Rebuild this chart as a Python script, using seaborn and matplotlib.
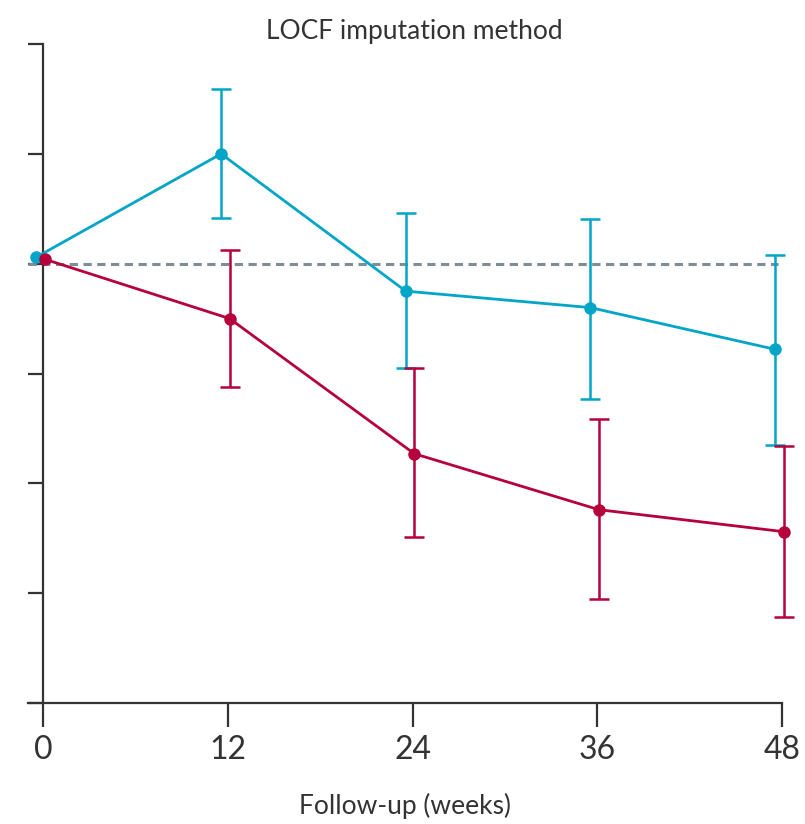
import numpy as np
import pandas as pd
import matplotlib
matplotlib.use("Agg")
import matplotlib.pyplot as plt
import seaborn as sns

weeks = [0, 12, 24, 36, 48]
cyan_mean = [0.06, 1.00, -0.25, -0.40, -0.78]
cyan_low = [0.06, 0.42, -0.95, -1.23, -1.65]
cyan_high = [0.06, 1.59, 0.46, 0.41, 0.08]
red_mean = [0.04, -0.50, -1.73, -2.24, -2.44]
red_low = [0.04, -1.12, -2.49, -3.05, -3.22]
red_high = [0.04, 0.12, -0.95, -1.41, -1.66]
groups = ["Cyan group", "Red group"]
x_ticks = [0, 12, 24, 36, 48]
y_ticks = [-4, -3, -2, -1, 0, 1, 2]
title = "LOCF imputation method"
xlabel = "Follow-up (weeks)"

sns.set_style("white")
plt.rcParams["font.family"] = ["Lato", "DejaVu Sans"]

CYAN = "#00a5c8"
RED = "#b5003c"

offsets = {groups[0]: -0.45, groups[1]: 0.1}
rows = []
for g, m, lo, hi in [(groups[0], cyan_mean, cyan_low, cyan_high),
                     (groups[1], red_mean, red_low, red_high)]:
    for w, mm, l, h in zip(weeks, m, lo, hi):
        rows.append({"group": g, "week": w + offsets[g], "value": mm, "low": l, "high": h})
df = pd.DataFrame(rows)

fig = plt.figure(figsize=(8.05, 8.24), dpi=100)
ax = fig.add_axes([28 / 805, 1 - 703 / 824, 754 / 805, 659 / 824])

ax.axhline(0, xmin=0, xmax=0.995, color="#7d8e98", lw=2.2,
           ls=(0, (2.7, 1.8)), zorder=1)

sns.lineplot(data=df, x="week", y="value", hue="group",
             palette={groups[0]: CYAN, groups[1]: RED},
             marker="o", markersize=9, markeredgewidth=0, linewidth=2.0,
             legend=False, ax=ax, zorder=3, clip_on=False)

for g, c in [(groups[0], CYAN), (groups[1], RED)]:
    sub = df[(df.group == g) & (df.week > 1)]
    yerr = np.vstack([sub.value - sub.low, sub.high - sub.value])
    ax.errorbar(sub.week, sub.value, yerr=yerr, fmt="none", ecolor=c,
                elinewidth=1.8, capsize=7, capthick=1.8, zorder=2, clip_on=False)

ax.set_xlim(-1, 48)
ax.set_ylim(-4, 2)
ax.set_xticks(x_ticks)
ax.set_xticklabels([str(t) for t in x_ticks])
ax.set_yticks(y_ticks)
ax.set_yticklabels([])

for s in ["top", "right"]:
    ax.spines[s].set_visible(False)
ax.spines["left"].set_position(("data", 0))
for s in ["left", "bottom"]:
    ax.spines[s].set_color("#333333")
    ax.spines[s].set_linewidth(1.6)

ax.tick_params(axis="y", left=True, direction="out", length=11, width=1.6, color="#333333")
ax.tick_params(axis="x", bottom=True, direction="out", length=17, width=1.6, color="#333333",
               labelsize=23, pad=6, labelcolor="#333333")

ax.set_xlabel(xlabel, fontsize=19, color="#333333", labelpad=20)
ax.set_ylabel("")
fig.text(414 / 805, 1 - 31 / 824, title, ha="center", va="center",
         fontsize=19, color="#333333")

fig.savefig("out.png", dpi=100)
